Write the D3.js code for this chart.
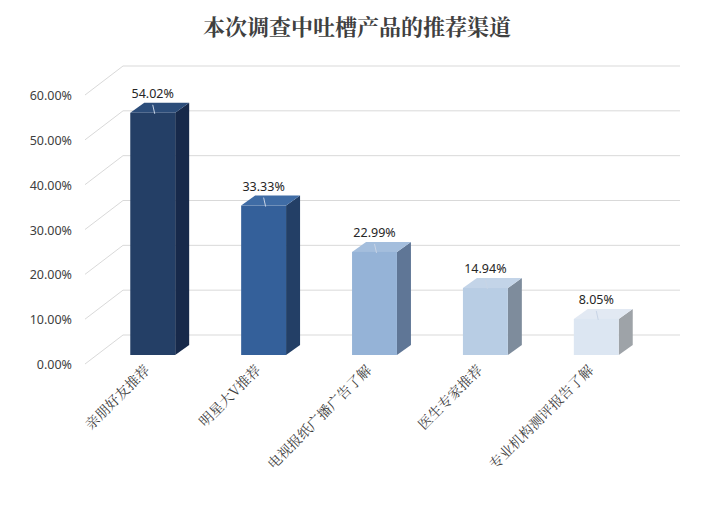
<!DOCTYPE html>
<html><head><meta charset="utf-8">
<script src="https://cdn.jsdelivr.net/npm/d3@7"></script>
<style>body{margin:0;background:#fff}</style>
</head><body>
<svg id="c" width="714" height="505"></svg>
<script>
const categories = ["亲朋好友推荐", "明星大V推荐", "电视报纸广播广告了解", "医生专家推荐", "专业机构测评报告了解"];
const values = [54.02, 33.33, 22.99, 14.94, 8.05];
const ticks = [0, 10, 20, 30, 40, 50, 60];
const fronts = ["#243f66", "#34609a", "#95b3d7", "#b8cde4", "#dce6f2"];
const sides = ["#17294a", "#233f66", "#5f7696", "#7e8c9c", "#9ea3a8"];
const tops = ["#2c4d7a", "#3f6ca5", "#a4bedd", "#c3d4e8", "#e2e9f3"];

const svg = d3.select("#c");
const y = d3.scaleLinear().domain([0, 60]).range([355, 86]);
const x = d3.scaleBand().domain(categories).range([97, 652]).paddingInner(0.595).paddingOuter(0.3);
const dx = 38, dy = -20, bx = 14, by = -10;

svg.append("text").attr("x", 357).attr("y", 35).attr("text-anchor", "middle")
  .attr("font-family", "Noto Serif CJK SC, Noto Sans CJK SC").attr("font-weight", "bold")
  .attr("font-size", 22).attr("fill", "#404040").text("本次调查中吐槽产品的推荐渠道");

const g = svg.append("g");
ticks.forEach(t => {
  const yy = y(t) + 9;
  g.append("line").attr("x1", 85).attr("y1", yy).attr("x2", 85 + dx).attr("y2", yy + dy - 9)
    .attr("stroke", "#d9d9d9");
  g.append("line").attr("x1", 85 + dx).attr("y1", yy + dy - 9).attr("x2", 680).attr("y2", yy + dy - 9)
    .attr("stroke", "#d9d9d9");
  g.append("text").attr("x", 72).attr("y", yy + 5).attr("text-anchor", "end")
    .attr("font-family", "Noto Sans").attr("font-size", 12.5).attr("fill", "#404040")
    .text(t.toFixed(2) + "%");
});

categories.forEach((c, i) => {
  const x0 = x(c), w = x.bandwidth(), y0 = y(0), y1 = y(values[i]);
  g.append("path").attr("d", `M${x0 + w},${y0}L${x0 + w + bx},${y0 + by}L${x0 + w + bx},${y1 + by}L${x0 + w},${y1}Z`).attr("fill", sides[i]);
  g.append("path").attr("d", `M${x0},${y1}L${x0 + bx},${y1 + by}L${x0 + w + bx},${y1 + by}L${x0 + w},${y1}Z`).attr("fill", tops[i]);
  g.append("rect").attr("x", x0).attr("y", y1).attr("width", w).attr("height", y0 - y1).attr("fill", fronts[i]);
  g.append("line").attr("x1", x0 + w / 2).attr("y1", y1 - 8).attr("x2", x0 + w / 2 + 2).attr("y2", y1 + 1)
    .attr("stroke", "#c8d4e6").attr("stroke-width", 1);
  g.append("text").attr("x", x0 + w / 2).attr("y", y1 - 15).attr("text-anchor", "middle")
    .attr("font-family", "Noto Sans").attr("font-size", 12.5).attr("fill", "#262626")
    .text(values[i].toFixed(2) + "%");
  g.append("text").attr("transform", `translate(${x0 + w / 2 - 2},${y0 + 16}) rotate(-45)`)
    .attr("text-anchor", "end").attr("font-family", "Noto Serif CJK SC, Noto Sans CJK SC")
    .attr("font-size", 14).attr("fill", "#404040").text(c);
});
</script>
</body></html>
